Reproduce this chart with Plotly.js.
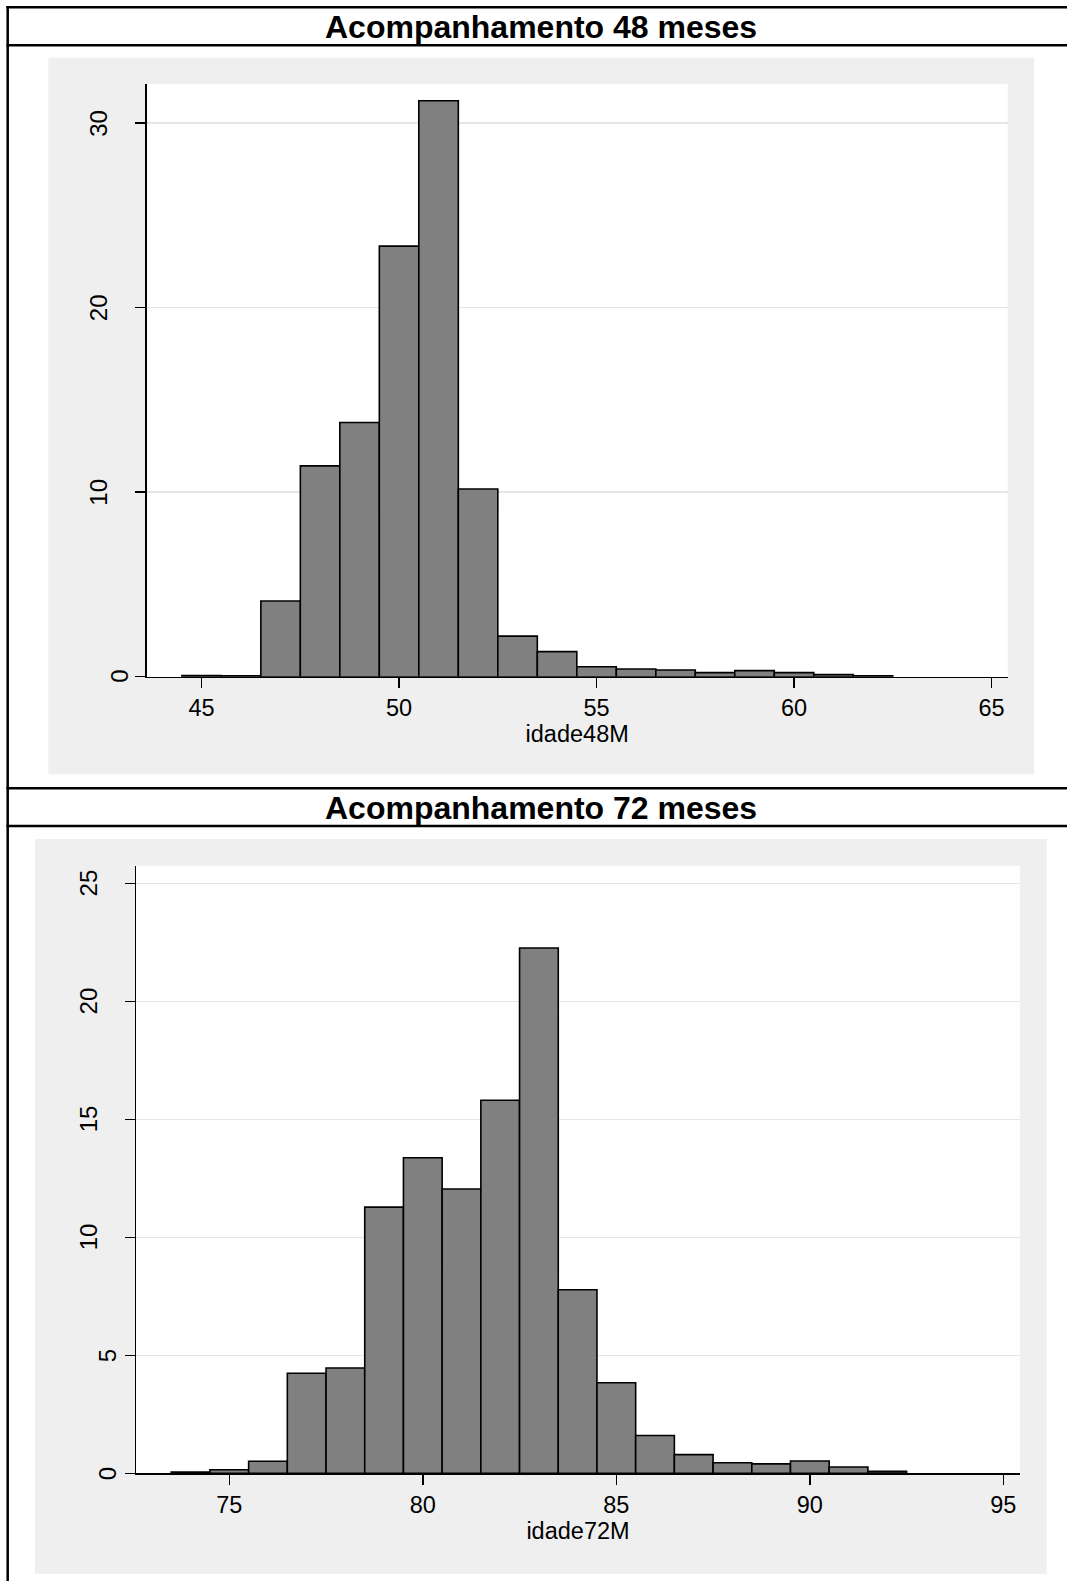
<!DOCTYPE html>
<html>
<head>
<meta charset="utf-8">
<script src="https://cdn.plot.ly/plotly-3.0.1.min.js"></script>
<style>
  html, body { margin: 0; padding: 0; background: #ffffff; }
  #chart { width: 1067px; height: 1581px; }
</style>
</head>
<body>
<div id="chart"></div>
<script>
// ---------- data ----------
const panelTitles = ['Acompanhamento 48 meses', 'Acompanhamento 72 meses'];
const xTitle48 = 'idade48M';
const xTitle72 = 'idade72M';

const bins48 = [45, 46, 47, 48, 49, 50, 51, 52, 53, 54, 55, 56, 57, 58, 59, 60, 61, 62];
const density48 = [0.06, 0.05, 4.10, 11.43, 13.78, 23.34, 31.22, 10.17, 2.20, 1.36, 0.54, 0.42, 0.36, 0.22, 0.33, 0.22, 0.11, 0.05];

const bins72 = [74, 75, 76, 77, 78, 79, 80, 81, 82, 83, 84, 85, 86, 87, 88, 89, 90, 91, 92];
const density72 = [0.05, 0.15, 0.51, 4.24, 4.46, 11.28, 13.37, 12.05, 15.81, 22.26, 7.78, 3.84, 1.60, 0.79, 0.45, 0.40, 0.52, 0.27, 0.08];

const xTicks48 = [45, 50, 55, 60, 65];
const xTicks72 = [75, 80, 85, 90, 95];
const yTicks48 = [0, 10, 20, 30];
const yTickText48 = ['0', '10', '20', '30'];
const yTicks72 = [0, 5, 10, 15, 20, 25];
const yTickText72 = ['0', '5', '10', '15', '20', '25'];

// ---------- layout helpers ----------
const W = 1067, H = 1581;
const px = v => v / W;
const py = v => 1 - v / H;
const FONT = 'Liberation Sans, Arial, Helvetica, sans-serif';
const GRAY_BG = '#efefef';
const BAR_FILL = '#808080';

function barTrace(x, y, xa, ya) {
  return {
    type: 'bar', x: x, y: y, width: 1,
    xaxis: xa, yaxis: ya,
    marker: { color: BAR_FILL, line: { color: '#000000', width: 1.6 } },
    hoverinfo: 'x+y'
  };
}

const traces = [
  barTrace(bins48, density48, 'x', 'y'),
  barTrace(bins72, density72, 'x2', 'y2')
];

const axisCommon = {
  showline: true, linecolor: '#000000', linewidth: 1.5,
  ticks: 'outside', ticklen: 10, tickwidth: 1.5, tickcolor: '#000000',
  zeroline: false, fixedrange: true,
  tickfont: { family: FONT, size: 23.5, color: '#000000' }
};

const layout = {
  width: W, height: H,
  margin: { l: 0, r: 0, t: 0, b: 0 },
  paper_bgcolor: '#ffffff', plot_bgcolor: '#ffffff',
  showlegend: false, bargap: 0,
  font: { family: FONT, color: '#000000' },
  xaxis: Object.assign({}, axisCommon, {
    domain: [px(146.7), px(1007.7)], anchor: 'y',
    range: [43.61, 65.41], tickvals: xTicks48, showgrid: false,
    ticklabelstandoff: 0,
    title: { text: xTitle48, font: { family: FONT, size: 23.5, color: '#000000' }, standoff: 0 }
  }),
  yaxis: Object.assign({}, axisCommon, {
    domain: [py(676.7), py(84.3)], anchor: 'x',
    range: [0, 32.11], tickvals: yTicks48, showticklabels: false,
    showgrid: true, gridcolor: '#e6e6e6', gridwidth: 1.5
  }),
  xaxis2: Object.assign({}, axisCommon, {
    domain: [px(136), px(1020)], anchor: 'y2',
    range: [72.59, 95.43], tickvals: xTicks72, showgrid: false,
    ticklabelstandoff: 0,
    title: { text: xTitle72, font: { family: FONT, size: 23.5, color: '#000000' }, standoff: 0 }
  }),
  yaxis2: Object.assign({}, axisCommon, {
    domain: [py(1473.3), py(865.7)], anchor: 'x2',
    range: [0, 25.75], tickvals: yTicks72, showticklabels: false,
    showgrid: true, gridcolor: '#e6e6e6', gridwidth: 1.5
  }),
  shapes: [],
  annotations: []
};

// grey graph regions and white plot regions
function rect(x0, y0, x1, y1, color) {
  return { type: 'rect', xref: 'paper', yref: 'paper', layer: 'below',
    x0: px(x0), x1: px(x1), y0: py(y1), y1: py(y0),
    fillcolor: color, line: { width: 0 } };
}
layout.shapes.push(rect(48.3, 57.7, 1034, 774.3, GRAY_BG));
layout.shapes.push(rect(35, 839, 1046.7, 1574, GRAY_BG));
layout.shapes.push(rect(146.7, 84.3, 1007.7, 676.7, '#ffffff'));
layout.shapes.push(rect(136, 865.7, 1020, 1473.3, '#ffffff'));

// table borders
function hline(y) {
  return { type: 'line', xref: 'paper', yref: 'paper', layer: 'above',
    x0: px(6.5), x1: px(1067), y0: py(y), y1: py(y),
    line: { color: '#000000', width: 2.6 } };
}
[7.3, 45.3, 788.3, 826].forEach(y => layout.shapes.push(hline(y)));
layout.shapes.push({ type: 'line', xref: 'paper', yref: 'paper', layer: 'above',
  x0: px(7.7), x1: px(7.7), y0: py(6.0), y1: py(1581),
  line: { color: '#000000', width: 2.5 } });

// panel titles
[[panelTitles[0], 27.0], [panelTitles[1], 807.6]].forEach(([t, y]) => {
  layout.annotations.push({
    text: '<b>' + t + '</b>', xref: 'paper', yref: 'paper',
    x: px(540.5), y: py(y), xanchor: 'center', yanchor: 'middle',
    showarrow: false, font: { family: FONT, size: 32, color: '#000000' }
  });
});

// rotated y tick labels
function yLabels(vals, texts, yref, xTwo, xOne) {
  vals.forEach((v, i) => {
    layout.annotations.push({
      text: texts[i], xref: 'paper', yref: yref,
      x: px(texts[i].length > 1 ? xTwo : xOne), y: v,
      xanchor: 'center', yanchor: 'middle', textangle: -90,
      showarrow: false, font: { family: FONT, size: 24, color: '#000000' }
    });
  });
}
yLabels(yTicks48, yTickText48, 'y', 98.5, 120);
yLabels(yTicks72, yTickText72, 'y2', 88, 107);

Plotly.newPlot('chart', traces, layout, { displayModeBar: false, staticPlot: true });
</script>
</body>
</html>
